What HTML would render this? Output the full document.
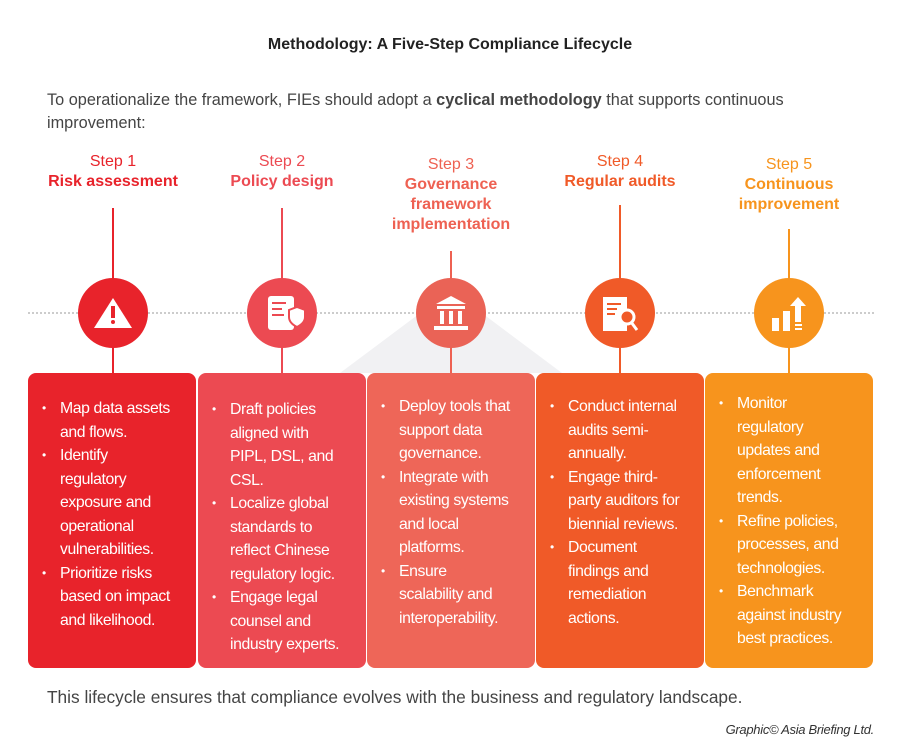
<!DOCTYPE html>
<html><head><meta charset="utf-8"><style>
*{margin:0;padding:0;box-sizing:border-box}
body{width:900px;height:754px;background:#fff;position:relative;font-family:"Liberation Sans",sans-serif;overflow:hidden}
.abs{position:absolute}
.title{left:0;width:900px;top:36px;text-align:center;font-weight:bold;font-size:16px;color:#222}
.intro{left:47px;top:89px;font-size:16.3px;color:#444;line-height:23px;width:800px}
.foot{left:47px;top:687px;font-size:17.3px;color:#444}
.credit{right:26px;top:722px;font-size:13px;font-style:italic;color:#333;letter-spacing:-0.3px}
.head{text-align:center;width:170px;font-size:16px;line-height:20px}
.head b{display:block;font-size:16px}
.vl{width:2px}
.circ{width:70px;height:70px;border-radius:50%;top:278px}
.box{top:373px;height:295px;width:168px;border-radius:8px;color:#fff;font-size:15.8px;line-height:23.5px;letter-spacing:-0.4px}
.box ul{list-style:none;position:absolute;left:32px;top:0}
.box li{position:relative;white-space:nowrap}
.box li:before{content:"•";position:absolute;left:-18px;font-size:12px}
.box li.c:before{content:""}
</style></head><body>
<div class="abs title">Methodology: A Five-Step Compliance Lifecycle</div>
<div class="abs intro">To operationalize the framework, FIEs should adopt a <b>cyclical methodology</b> that supports continuous<br>improvement:</div>

<div class="abs" style="left:28px;top:312px;width:846px;border-top:2px dotted #ccc"></div>
<svg class="abs" style="left:0;top:0" width="900" height="754"><polygon points="451,290 340,373 562,373" fill="#f1f1f3"/></svg>

<div class="abs head" style="left:28px;top:152px;color:#e8232b">Step 1<b>Risk assessment</b></div>
<div class="abs head" style="left:197px;top:152px;color:#ec4a52">Step 2<b>Policy design</b></div>
<div class="abs head" style="left:366px;top:155px;color:#ee6152">Step 3<b>Governance<br>framework<br>implementation</b></div>
<div class="abs head" style="left:535px;top:152px;color:#f05a28">Step 4<b>Regular audits</b></div>
<div class="abs head" style="left:704px;top:155px;color:#f7941d">Step 5<b>Continuous<br>improvement</b></div>

<div class="abs vl" style="left:112px;top:208px;height:165px;background:#e8232b"></div>
<div class="abs vl" style="left:281px;top:208px;height:165px;background:#ec4a52"></div>
<div class="abs vl" style="left:450px;top:251px;height:122px;background:#ee6152"></div>
<div class="abs vl" style="left:619px;top:205px;height:168px;background:#f05a28"></div>
<div class="abs vl" style="left:788px;top:229px;height:144px;background:#f7941d"></div>

<div class="abs circ" style="left:78px;background:#e8232b"></div>
<div class="abs circ" style="left:247px;background:#ec4a52"></div>
<div class="abs circ" style="left:416px;background:#ea6356"></div>
<div class="abs circ" style="left:585px;background:#f05a28"></div>
<div class="abs circ" style="left:754px;background:#f7941d"></div>

<svg class="abs" style="left:0;top:0" width="900" height="754">
<g fill="#fff">
<polygon points="113,298 132,328 94,328"/>
<rect x="111" y="306" width="4" height="12" fill="#e8232b"/><circle cx="113" cy="322" r="2" fill="#e8232b"/>
<rect x="268" y="296" width="26" height="34" rx="3"/>
<g fill="#ec4a52"><rect x="272" y="302" width="14" height="2"/><rect x="272" y="308" width="10" height="2"/><rect x="272" y="314" width="12" height="2"/></g>
<path d="M289 310 l8 -3 l8 3 v7 c0 5 -4 8 -8 10 c-4 -2 -8 -5 -8 -10z" stroke="#ec4a52" stroke-width="2"/>
<polygon points="451,296 466,304 436,304"/><rect x="437" y="306" width="28" height="3"/>
<rect x="440" y="311" width="4" height="13"/><rect x="449" y="311" width="4" height="13"/><rect x="458" y="311" width="4" height="13"/>
<rect x="434" y="326" width="34" height="4"/>
<rect x="603" y="297" width="24" height="34"/>
<g fill="#f05a28"><rect x="607" y="303" width="14" height="2"/><rect x="607" y="308" width="10" height="2"/><rect x="607" y="313" width="8" height="2"/></g>
<circle cx="627" cy="317" r="7" fill="#f05a28" stroke="#fff" stroke-width="3"/>
<line x1="631" y1="322" x2="637" y2="330" stroke="#fff" stroke-width="3"/>
<rect x="772" y="318" width="7" height="13"/><rect x="783" y="311" width="7" height="20"/>
<polygon points="798,297 806,306 801,306 801,322 795,322 795,306 790,306"/><rect x="795" y="324" width="7" height="2"/><rect x="795" y="328" width="7" height="2"/>
</g></svg>

<div class="abs box" style="left:28px;background:#e8232b"><ul style="top:24px">
<li>Map data assets</li><li class="c">and flows.</li>
<li>Identify</li><li class="c">regulatory</li><li class="c">exposure and</li><li class="c">operational</li><li class="c">vulnerabilities.</li>
<li>Prioritize risks</li><li class="c">based on impact</li><li class="c">and likelihood.</li></ul></div>
<div class="abs box" style="left:198px;background:#ec4a52"><ul style="top:25px">
<li>Draft policies</li><li class="c">aligned with</li><li class="c">PIPL, DSL, and</li><li class="c">CSL.</li>
<li>Localize global</li><li class="c">standards to</li><li class="c">reflect Chinese</li><li class="c">regulatory logic.</li>
<li>Engage legal</li><li class="c">counsel and</li><li class="c">industry experts.</li></ul></div>
<div class="abs box" style="left:367px;background:#ee6658"><ul style="top:22px">
<li>Deploy tools that</li><li class="c">support data</li><li class="c">governance.</li>
<li>Integrate with</li><li class="c">existing systems</li><li class="c">and local</li><li class="c">platforms.</li>
<li>Ensure</li><li class="c">scalability and</li><li class="c">interoperability.</li></ul></div>
<div class="abs box" style="left:536px;background:#f05a28"><ul style="top:22px">
<li>Conduct internal</li><li class="c">audits semi-</li><li class="c">annually.</li>
<li>Engage third-</li><li class="c">party auditors for</li><li class="c">biennial reviews.</li>
<li>Document</li><li class="c">findings and</li><li class="c">remediation</li><li class="c">actions.</li></ul></div>
<div class="abs box" style="left:705px;background:#f7941d"><ul style="top:19px">
<li>Monitor</li><li class="c">regulatory</li><li class="c">updates and</li><li class="c">enforcement</li><li class="c">trends.</li>
<li>Refine policies,</li><li class="c">processes, and</li><li class="c">technologies.</li>
<li>Benchmark</li><li class="c">against industry</li><li class="c">best practices.</li></ul></div>

<div class="abs foot">This lifecycle ensures that compliance evolves with the business and regulatory landscape.</div>
<div class="abs credit">Graphic© Asia Briefing Ltd.</div>
</body></html>
